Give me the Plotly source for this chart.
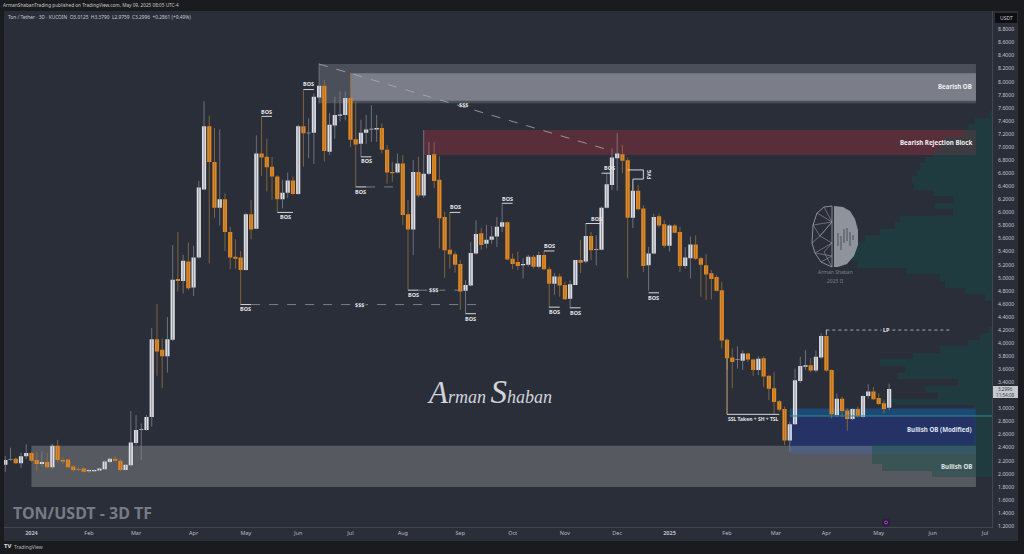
import pandas as pd
import plotly.graph_objects as go

# ---------- data ----------
opens = [2.14,2.21,2.23,2.16,2.27,2.32,2.21,2.15,2.18,2.10,2.43,2.21,2.22,2.11,2.07,2.08,2.04,2.04,2.05,2.07,
 2.18,2.23,2.20,2.06,2.13,2.47,2.67,2.67,2.87,4.06,3.90,3.80,4.05,4.98,4.95,5.25,4.85,5.31,6.35,7.32,
 6.77,6.07,6.20,5.70,5.32,5.31,5.12,5.97,5.75,6.90,6.85,6.70,6.55,6.20,6.30,6.49,6.28,7.32,7.21,7.22,
 7.76,7.94,6.93,7.33,7.48,7.49,7.75,7.12,7.05,7.22,7.27,7.27,7.29,6.96,6.62,6.61,6.75,5.97,5.74,6.62,
 6.26,6.59,6.89,6.50,5.93,5.43,5.36,5.21,4.80,4.88,5.37,5.68,5.52,5.58,5.63,5.78,5.85,5.29,5.24,5.19,
 5.20,5.32,5.17,5.35,5.13,4.91,5.02,4.89,4.68,4.89,5.27,5.25,5.64,5.43,5.43,6.07,6.42,6.83,6.89,6.80,
 5.92,6.33,6.06,5.19,5.37,5.94,5.82,5.49,5.80,5.70,5.18,5.30,5.51,5.30,5.19,5.07,5.01,4.81,4.05,3.78,
 3.74,3.73,3.84,3.75,3.59,3.77,3.50,3.31,3.11,2.99,2.51,2.76,3.42,3.64,3.66,3.58,3.78,4.11,3.59,2.90,
 3.15,2.97,2.84,2.99,2.87,3.19,3.26,3.16,3.08,3.0125]
highs = [2.27,2.40,2.25,2.32,2.45,2.34,2.34,2.35,2.32,2.46,2.52,2.26,2.23,2.14,2.11,2.10,2.07,2.07,2.10,2.21,
 2.25,2.28,2.23,2.15,2.96,2.90,2.77,2.90,4.23,4.60,4.07,4.40,5.50,5.70,5.35,5.54,5.49,6.48,7.70,7.48,
 7.29,7.27,6.29,5.78,5.59,5.41,5.99,6.19,7.18,7.46,7.13,6.85,6.57,6.50,6.61,6.55,7.34,7.87,7.44,7.82,
 8.28,8.03,7.52,7.77,7.85,7.85,8.14,7.69,7.42,7.49,7.64,7.49,7.36,7.03,6.77,6.90,6.88,6.19,6.80,6.85,
 7.26,7.08,7.08,6.86,6.01,6.00,5.40,5.27,4.96,5.55,5.88,5.76,5.81,5.79,5.93,6.14,5.86,5.37,5.40,5.30,
 5.35,5.35,5.40,5.40,5.17,5.07,5.06,4.94,4.96,5.27,5.58,5.83,5.70,5.65,6.09,6.60,6.98,7.21,7.03,6.84,
 6.50,6.42,6.11,5.47,5.98,5.98,5.88,5.82,5.82,5.78,5.47,5.63,5.65,5.32,5.36,5.12,5.04,4.94,4.07,3.92,
 3.95,3.89,3.85,3.76,3.80,3.80,3.51,3.56,3.13,3.03,2.80,3.61,3.79,3.89,3.77,3.89,4.15,4.21,3.60,3.23,
 3.18,3.00,3.00,3.03,3.20,3.37,3.33,3.23,3.12,3.3790]
lows = [2.03,2.20,2.15,2.09,2.23,2.18,2.04,2.11,2.08,2.07,2.17,2.15,2.08,2.03,2.04,2.02,2.01,2.03,2.04,2.06,
 2.16,2.18,2.04,2.05,2.12,2.44,2.21,2.66,2.72,3.50,3.31,3.55,4.03,4.79,4.76,4.81,4.72,5.29,6.34,5.22,
 5.92,5.80,5.41,5.13,5.14,4.58,5.11,5.59,5.74,6.56,6.32,6.19,6.01,6.06,6.22,6.27,6.27,6.70,6.83,6.74,
 7.67,6.78,6.88,7.13,7.39,7.41,7.00,6.39,6.85,7.05,7.08,7.08,6.90,6.44,6.47,6.60,5.81,4.81,5.35,6.23,
 6.22,6.57,6.37,5.45,5.00,5.14,5.08,4.51,4.45,4.87,5.36,5.43,5.45,5.52,5.47,5.70,5.27,5.13,5.12,4.99,
 5.17,5.14,5.14,5.12,4.53,4.74,4.71,4.66,4.53,4.89,5.07,5.22,5.27,5.19,5.42,6.06,6.34,6.33,6.60,4.99,
 5.76,6.03,5.09,4.80,5.36,5.77,5.46,5.40,5.68,5.09,5.14,4.99,5.27,4.71,4.66,4.67,4.79,3.92,3.59,3.31,
 3.61,3.59,3.71,3.50,3.51,3.33,3.13,2.91,2.95,2.44,2.34,2.75,3.39,3.59,3.55,3.55,3.76,3.56,2.85,2.87,
 2.87,2.66,2.82,2.86,2.86,3.15,3.13,3.05,2.92,2.9759]
closes = [2.21,2.22,2.16,2.27,2.32,2.20,2.15,2.18,2.10,2.43,2.21,2.19,2.10,2.06,2.06,2.03,2.06,2.06,2.08,2.19,
 2.23,2.20,2.06,2.14,2.48,2.67,2.68,2.87,4.06,3.87,3.80,4.06,4.97,4.95,5.26,4.84,5.31,6.38,7.32,6.77,
 6.07,6.20,5.70,5.31,5.29,5.12,5.97,5.74,6.90,6.84,6.69,6.55,6.20,6.30,6.49,6.28,7.32,7.21,7.22,7.77,
 7.94,6.94,7.34,7.49,7.50,7.75,7.11,7.04,7.22,7.27,7.28,7.29,6.96,6.61,6.60,6.75,5.96,5.74,6.62,6.26,
 6.59,6.88,6.48,5.91,5.42,5.36,5.20,4.79,4.89,5.38,5.67,5.50,5.58,5.63,5.78,5.85,5.28,5.21,5.18,5.21,
 5.32,5.17,5.35,5.13,4.91,5.02,4.88,4.67,4.90,5.27,5.23,5.64,5.42,5.44,6.07,6.43,6.84,6.90,6.79,5.92,
 6.33,6.05,5.18,5.37,5.93,5.80,5.49,5.80,5.69,5.18,5.31,5.51,5.29,5.20,5.05,4.98,4.80,4.04,3.77,3.71,
 3.75,3.84,3.75,3.59,3.76,3.49,3.30,3.10,2.98,2.51,2.76,3.43,3.65,3.66,3.58,3.79,4.11,3.58,2.91,3.15,
 2.96,2.84,2.99,2.88,3.19,3.26,3.14,3.07,2.99,3.2996]

profile_prices = [7.5,7.4,7.3,7.2,7.1,7.0,6.9,6.8,6.7,6.6,6.5,6.4,6.3,6.2,6.1,6.0,5.9,5.8,5.7,5.6,5.5,5.4,5.3,5.2,5.1,5.0,
                  4.9,4.8,4.7,4.2,4.1,4.0,3.9,3.8,3.7,3.6,3.5,3.4,3.3,3.2,3.1,3.0,2.9,2.8,2.7,2.6,2.5,2.4,2.3,2.2,2.1,2.0]
profile_volume = [2,17,24,29,49,52,59,67,72,75,80,78,59,39,57,39,92,97,112,127,134,137,139,135,85,52,
                  47,27,7,3,12,24,52,79,112,87,95,34,67,54,112,18,18,18,18,18,18,120,120,120,110,60]

price_ticks = [1.2,1.4,1.6,1.8,2.0,2.2,2.4,2.6,2.8,3.0,3.2,3.4,3.6,3.8,4.0,4.2,4.4,4.6,4.8,5.0,5.2,5.4,5.6,5.8,
               6.0,6.2,6.4,6.6,6.8,7.0,7.2,7.4,7.6,7.8,8.0,8.2,8.4,8.6,8.8]
date_ticks = ["2024-01-01","2024-02-03","2024-03-01","2024-04-03","2024-05-03","2024-06-02","2024-07-02","2024-08-01",
              "2024-09-03","2024-10-03","2024-11-02","2024-12-02","2025-01-01","2025-02-03","2025-03-03","2025-04-01",
              "2025-05-01","2025-06-01","2025-07-01"]
date_labels = ["<b>2024</b>","Feb","Mar","Apr","May","Jun","Jul","Aug","Sep","Oct","Nov","Dec","<b>2025</b>","Feb","Mar","Apr","May","Jun","Jul"]

bos_marks = [(45,47,4.59,46,4.52),(49,51,7.47,50,7.54),(52,55,6.0,53.5,5.93),(57,59,7.88,58,7.96),(68,70,6.85,69,6.78),
             (67,69,6.39,68,6.32),(77,79,4.81,78,4.74),(85,87,6.0,86,6.08),(95,97,6.14,96,6.21),(103,105,5.41,104,5.49),
             (88,90,4.45,89,4.37),(104,106,4.55,105,4.47),(108,110,4.54,109,4.465),(111,114,5.83,113,5.90),
             (114,116,6.60,115.5,6.68),(123,125,4.77,124,4.69)]

BG, PAGE = "#2a2e39", "#1a1b1e"
START = pd.Timestamp("2023-12-17")
dates = [START + pd.Timedelta(days=3*i) for i in range(len(opens))]
def when(i):
    return (START + pd.Timedelta(days=3*i)).strftime("%Y-%m-%d %H:%M")
def px(x): return (x-4)/988
def py(y): return 1-(y-11)/516

wx_up, wy_up, wx_dn, wy_dn = [], [], [], []
for d,o,h,l,c in zip(dates,opens,highs,lows,closes):
    xs, ys = (wx_up, wy_up) if c >= o else (wx_dn, wy_dn)
    xs += [d,d,None]; ys += [l,h,None]

fig = go.Figure()
fig.add_trace(go.Bar(y=profile_prices, x=profile_volume, orientation="h", width=0.1, xaxis="x", yaxis="y",
                     marker=dict(color="rgba(18,78,74,0.42)", line=dict(width=0)), hoverinfo="skip", showlegend=False))
fig.add_trace(go.Scatter(x=wx_up, y=wy_up, mode="lines", line=dict(color="#7d828c", width=0.8), xaxis="x2", hoverinfo="skip", showlegend=False))
fig.add_trace(go.Scatter(x=wx_dn, y=wy_dn, mode="lines", line=dict(color="#94713f", width=0.8), xaxis="x2", hoverinfo="skip", showlegend=False))
fig.add_trace(go.Candlestick(x=dates, open=opens, high=highs, low=lows, close=closes, xaxis="x2", yaxis="y", showlegend=False,
    increasing=dict(fillcolor="#dcdee4", line=dict(color="#dcdee4", width=0)),
    decreasing=dict(fillcolor="#e8891f", line=dict(color="#e8891f", width=0))))

shapes, notes = [], []
def rect(i0,i1,p0,p1,color):
    shapes.append(dict(type="rect", xref="x2", yref="y", x0=when(i0), x1=when(i1), y0=p0, y1=p1, fillcolor=color, line=dict(width=0), layer="below"))
def line(i0,p0,i1,p1,color="#d6d7db",width=1,dash="solid"):
    shapes.append(dict(type="line", xref="x2", yref="y", x0=when(i0), x1=when(i1), y0=p0, y1=p1, line=dict(color=color,width=width,dash=dash)))
def label(i,p,text,size=5.5,color="#e4e5e8",**kw):
    notes.append(dict(xref="x2", yref="y", x=when(i), y=p, text=text, showarrow=False, font=dict(size=size,color=color,family="Noto Sans"), **kw))
def plabel(x,y,text,size=5,color="#c4c6cc",anchor="left",**kw):
    f = dict(size=size,color=color,family=kw.pop("family","Noto Sans"))
    notes.append(dict(xref="paper", yref="paper", x=px(x), y=py(y), text=text, showarrow=False, xanchor=anchor, yanchor="middle", font=f, **kw))
def prect(x0,y0,x1,y1,color,layer="above"):
    shapes.append(dict(type="rect", xref="paper", yref="paper", x0=px(x0), x1=px(x1), y0=py(y0), y1=py(y1), fillcolor=color, line=dict(width=0), layer=layer))

# panel behind everything
prect(4,11,1018,541,BG,"below")

# zones
END = 185.6
rect(60,END,7.67,8.27,"rgba(125,130,140,0.4)")
rect(66,END,7.71,8.13,"rgba(171,174,182,0.5)")
rect(80,END,6.88,7.26,"rgba(136,46,62,0.5)")
rect(5,END,1.80,2.43,"rgba(140,142,145,0.45)")
rect(150,END,2.43,3.00,"rgba(32,54,147,0.5)")
rect(150,END,2.88,3.00,"rgba(20,105,135,0.45)")
rect(150,END,2.30,2.43,"rgba(60,110,190,0.3)")
shapes.append(dict(type="line", xref="x2", yref="y", x0=when(150), x1="2025-07-06", y0=2.885, y1=2.885, line=dict(color="#2f8a93",width=1)))

# market structure marks
for i0,i1,p,ti,tp in bos_marks:
    line(i0,p,i1,p)
    label(ti,tp,"<b>BOS</b>")
line(47,4.59,90.5,4.59,"#8f939b",0.8,"dash")
line(69,6.39,76,6.39,"#8f939b",0.8,"dash")
line(79,4.81,87,4.81,"#8f939b",0.8,"dash")
line(60,8.27,116,6.94,"#a9acb3",0.8,"dash")
label(67.8,4.59,"<b>$$$</b>",bgcolor=BG)
label(81.9,4.81,"<b>$$$</b>",bgcolor=BG)
label(87.7,7.64,"<b>$$$</b>")
line(157,4.20,180.6,4.20,"#c9cbd0",0.8,"dot")
line(157,4.20,157,4.13,"#c9cbd0",0.8)
label(168.5,4.20,"<b>LP</b>",bgcolor=BG)
line(138,3.77,138,2.91,"#c9a77a",1)
line(138,2.91,148,2.91)
label(143,2.84,"<b>SSL Taken + SH + TSL</b>",size=5)
line(119,6.65,122,6.65); line(122,6.65,122,6.51); line(120,6.51,122,6.51); line(120,6.51,120,6.33,"#c9cbd0",0.8)
label(122.9,6.58,"<b>FVG</b>",size=5,textangle=-90)
plabel(974,86,"<b>Bearish OB</b>",6.2,"#f0f0f2","right")
plabel(974,142,"<b>Bearish Rejection Block</b>",6.2,"#f0f0f2","right")
plabel(974,429,"<b>Bullish OB (Modified)</b>",6.2,"#dfe3ee","right")
plabel(974,466,"<b>Bullish OB</b>",6.2,"#dfe3e6","right")

# header, footer, watermark
plabel(1,5,"ArmanShabanTrading published on TradingView.com, May 09, 2025 08:05 UTC-4",4.7,"#c8c9cc")
plabel(6,17,"Ton / Tether · 3D · KUCOIN  O3.0125  H3.3790  L2.9759  C3.2996  +0.2861 (+9.49%)",4.8,"#c8cad0")
plabel(11,513,"<b>TON/USDT - 3D TF</b>",16,"#777b85",family="Noto Sans")
plabel(2,546,"<b>TV</b>",6,"#e0e0e0")
plabel(12,546.5,"TradingView",5,"#b5b5b8")
plabel(489,392,"<i><span style='font-size:31px'>A</span>rman <span style='font-size:33px'>S</span>haban</i>",18,"#d2d4d9","center",family="Liberation Serif")

# price boxes
prect(995,13,1017,23,"#0e0f11")
plabel(1006,18,"USDT",5,"#c8cad0","center")
prect(993,386,1018,398,"#c6c8cf")
plabel(1005.5,392,"3.2996<br>11:54:08",4.6,"#3b3e46","center")

# event marker
shapes.append(dict(type="circle", xref="paper", yref="paper", x0=px(882), x1=px(890), y0=py(518.5), y1=py(526.5), fillcolor="#2e1a3c", line=dict(width=0)))
shapes.append(dict(type="circle", xref="paper", yref="paper", x0=px(884.5), x1=px(887.5), y0=py(521), y1=py(524), fillcolor="#2e1a3c", line=dict(color="#9b4fc4",width=1)))

# logo
def path(points, close=False):
    s = "M " + " L ".join(f"{px(x):.5f},{py(y):.5f}" for x,y in points)
    return s + (" Z" if close else "")
brain_right = [(834,206),(843,207),(850,211),(855,219),(858,230),(858,245),(854,256),(847,264),(838,267),(834,267)]
brain_left = [(832,206),(824,207),(817,213),(813,225),(812,243),(815,253),(821,262),(832,267)]
shapes.append(dict(type="path", xref="paper", yref="paper", path=path(brain_right,True), fillcolor="#8f939b", line=dict(width=0)))
shapes.append(dict(type="path", xref="paper", yref="paper", path=path(brain_left+[(832,206)]), line=dict(color="#a3a6ad",width=0.8)))
for seg in [[(824,207),(832,222),(817,213)],[(813,225),(832,222),(820,236),(813,225)],[(812,243),(820,236),(832,243),(815,253)],
            [(820,236),(832,222)],[(815,253),(832,256),(821,262)],[(832,243),(824,252),(832,267)]]:
    shapes.append(dict(type="path", xref="paper", yref="paper", path=path(seg), line=dict(color="#989ba3",width=0.6)))
for x,y0,y1 in [(838,233,246),(841,236,250),(844,229,243),(847,228,241),(850,232,246),(853,235,240)]:
    shapes.append(dict(type="line", xref="paper", yref="paper", x0=px(x), x1=px(x), y0=py(y0), y1=py(y1), line=dict(color="#5f636c",width=1.4)))
plabel(835,272,"Arman Shaban",5,"#7d818a","center")
plabel(835,281,"2025 II",5,"#7d818a","center")

fig.update_layout(
    width=1024, height=554, autosize=False,
    margin=dict(l=4, r=32, t=11, b=27, pad=0),
    paper_bgcolor=PAGE, plot_bgcolor=BG, bargap=0, boxgap=0.2, boxgroupgap=0, showlegend=False, dragmode=False,
    xaxis=dict(range=[988,0], visible=False, showgrid=False, zeroline=False, fixedrange=True),
    xaxis2=dict(overlaying="x", anchor="y", side="bottom", type="date", rangeslider=dict(visible=False),
                range=["2023-12-16 06:00","2025-07-05 00:00"], tickvals=date_ticks, ticktext=date_labels,
                tickfont=dict(size=5.5,color="#b9bcc4",family="Noto Sans"), ticklen=3, tickcolor="rgba(0,0,0,0)",
                showgrid=False, zeroline=False, showline=True, linecolor="#41454f", linewidth=1, fixedrange=True),
    yaxis=dict(side="right", range=[1.186,9.082], tickvals=price_ticks, ticktext=[f"{v:.4f}" for v in price_ticks],
               tickfont=dict(size=5.2,color="#c3c6cd",family="Noto Sans"), ticks="outside", ticklen=4, tickcolor="rgba(0,0,0,0)",
               showgrid=False, zeroline=False, showline=True, linecolor="#41454f", linewidth=1, fixedrange=True),
    shapes=shapes, annotations=notes,
)
fig.write_html("out.html", config=dict(displayModeBar=False), post_script="document.body.style.margin='0';document.body.style.background='#1a1b1e';")
